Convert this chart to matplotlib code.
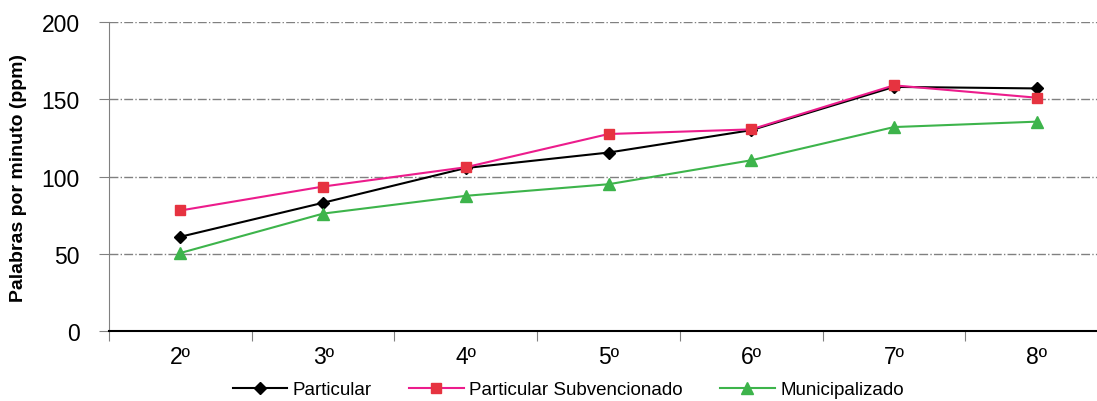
import numpy as np
import matplotlib
matplotlib.use("Agg")
import matplotlib.pyplot as plt

plt.rcParams['font.family'] = ['Liberation Sans', 'DejaVu Sans']

cursos = ['2º', '3º', '4º', '5º', '6º', '7º', '8º']
particular = [61, 83, 105.5, 115.5, 130, 158, 157]
subvencionado = [78, 93.5, 106, 127.5, 130.5, 159, 151]
municipalizado = [50.5, 76, 87.5, 95, 110.5, 132, 135.5]

fig = plt.figure(figsize=(10.97, 4.02), dpi=100)
ax = fig.add_axes([0.0994, 0.1741, 0.9107, 0.7687])

x = np.arange(len(cursos))
ax.plot(x, particular, color='black', lw=1.5, marker='D', ms=6,
        label='Particular')
ax.plot(x, subvencionado, color='#EC1C8C', lw=1.5, marker='s', ms=7,
        markerfacecolor='#E63340', markeredgecolor='#E63340',
        label='Particular Subvencionado')
ax.plot(x, municipalizado, color='#3DB44B', lw=1.5, marker='^', ms=8,
        label='Municipalizado')

ax.set_xlim(-0.5, len(cursos) - 0.5)
ax.set_ylim(0, 200)
ax.set_yticks([0, 50, 100, 150, 200])
ax.yaxis.grid(True, color='#808080', ls='-.', lw=1)
ax.set_axisbelow(True)

# tick marks between categories, labels at the centres
ax.set_xticks(np.arange(len(cursos) + 1) - 0.5)
ax.set_xticklabels([])
ax.set_xticks(x, minor=True)
ax.set_xticklabels(cursos, minor=True)
ax.tick_params(axis='x', which='minor', length=0, labelsize=16.5, pad=10)
ax.tick_params(axis='x', which='major', length=7, color='#808080', direction='out')
ax.tick_params(axis='y', length=7, color='#808080', labelsize=16.5, pad=14)

for s in ['top', 'right']:
    ax.spines[s].set_visible(False)
ax.spines['left'].set_color('#808080')
ax.spines['bottom'].set_color('black')
ax.spines['bottom'].set_linewidth(1.5)

ax.set_ylabel('Palabras por minuto (ppm)', fontsize=14, fontweight='bold')
ax.yaxis.set_label_coords(-0.082, 0.5)

fig.legend(loc='center', bbox_to_anchor=(0.518, 0.028), ncol=3, frameon=False,
           fontsize=13.5, handlelength=2.9, columnspacing=2.0, handletextpad=0.3)

fig.savefig('out.png', dpi=100)
